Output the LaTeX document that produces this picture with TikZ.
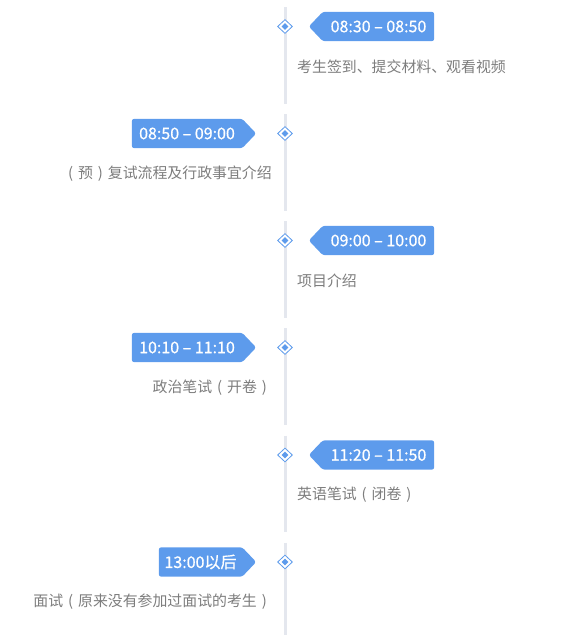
\documentclass[tikz,border=0pt]{standalone}
\usepackage{fontspec}
\setmainfont{Noto Sans CJK SC}
\newfontfamily\tagfont[FakeBold=0.7]{Noto Sans CJK SC}
\usetikzlibrary{shapes.geometric,backgrounds}
\definecolor{tagblue}{RGB}{93,155,236}
\definecolor{descgray}{RGB}{125,125,125}
\definecolor{linegray}{RGB}{228,231,238}
\newcommand{\lpar}{\makebox[1em]{(}}
\newcommand{\rpar}{\makebox[1em]{)}}
\begin{document}
\begin{tikzpicture}[x=1pt,y=-1pt,
  tagtext/.style={text=white,font=\tagfont\fontsize{16}{19}\selectfont,inner sep=0pt,minimum height=29pt},
  desc/.style={text=descgray,font=\fontsize{14.9}{18}\selectfont,inner sep=0pt},
  axisseg/.style={linegray,line width=3pt},
  outerdia/.style={diamond,draw=tagblue,fill=white,line width=0.8pt,inner sep=0pt,minimum width=15pt,minimum height=14pt},
  innerdia/.style={diamond,fill=tagblue,inner sep=0pt,minimum width=7pt,minimum height=7pt},
  tagfill/.style={fill=tagblue,rounded corners=2.5pt}]
\useasboundingbox (0,0) rectangle (568,635);
\foreach \i/\y/\side/\cx/\w/\t/\d in {
  1/26.5/r/378.5/111/{08:30 – 08:50}/{考生签到、提交材料、观看视频},
  2/133.5/l/187/110/{08:50 – 09:00}/{\lpar 预\rpar 复试流程及行政事宜介绍},
  3/240.5/r/378.5/111/{09:00 – 10:00}/{项目介绍},
  4/347.5/l/187/110/{10:10 – 11:10}/{政治笔试\lpar 开卷\rpar},
  5/455/r/378.5/111/{11:20 – 11:50}/{英语笔试\lpar 闭卷\rpar},
  6/562/l/200.5/83/{13:00以后}/{面试\lpar 原来没有参加过面试的考生\rpar}}{
  \coordinate (top\i) at (285,\y-19.5);
  \coordinate (bot\i) at (285,{min(\y+77,635)});
  \draw[axisseg] (top\i) -- (bot\i);
  \node[outerdia] (d\i) at (285,\y) {};
  \node[innerdia] (di\i) at (d\i.center) {};
  \node[tagtext,minimum width=\w pt] (tag\i) at (\cx,\y) {\t};
  \if r\side
    \begin{pgfonlayer}{background}
      \fill[tagfill] ([xshift=-14pt]tag\i.west) -- (tag\i.north west) -- (tag\i.north east) -- (tag\i.south east) -- (tag\i.south west) -- cycle;
    \end{pgfonlayer}
    \node[desc,anchor=west] (desc\i) at (297,\y+40) {\d};
  \else
    \begin{pgfonlayer}{background}
      \fill[tagfill] (tag\i.north west) -- (tag\i.north east) -- ([xshift=14pt]tag\i.east) -- (tag\i.south east) -- (tag\i.south west) -- cycle;
    \end{pgfonlayer}
    \node[desc,anchor=east] (desc\i) at (272,\y+40) {\d};
  \fi
}
\end{tikzpicture}
\end{document}
